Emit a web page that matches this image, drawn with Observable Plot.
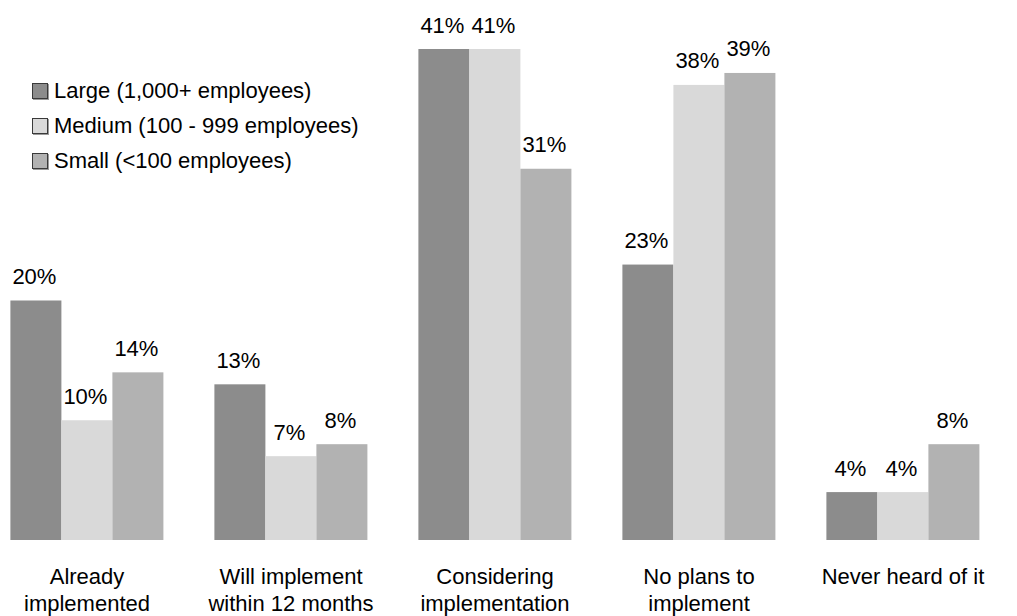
<!DOCTYPE html>
<html>
<head>
<meta charset="utf-8">
<script src="https://cdn.jsdelivr.net/npm/d3@7"></script>
<script src="https://cdn.jsdelivr.net/npm/@observablehq/plot@0.6"></script>
<style>
  html, body { margin: 0; padding: 0; background: #fff; }
  #wrap { position: relative; width: 1017px; height: 616px; font-family: "Liberation Sans", Arial, sans-serif; }
  #legend { position: absolute; left: 32px; top: 73px; font-size: 22px; color: #000; }
  .item { display: flex; align-items: center; height: 35px; }
  .sw { width: 14px; height: 14px; border: 1px solid #3a3a3a; box-shadow: 1px 1px 0 #9a9a9a; margin-right: 6px; box-sizing: content-box; }
</style>
</head>
<body>
<div id="wrap"><div id="legend"></div></div>
<script>
const categories = ["Already implemented", "Will implement within 12 months", "Considering implementation", "No plans to implement", "Never heard of it"];
const categoryLabels = ["Already\nimplemented", "Will implement\nwithin 12 months", "Considering\nimplementation", "No plans to\nimplement", "Never heard of it"];
const series = ["Large (1,000+ employees)", "Medium (100 - 999 employees)", "Small (<100 employees)"];
const large = [20, 13, 41, 23, 4];
const medium = [10, 7, 41, 38, 4];
const small = [14, 8, 31, 39, 8];
const colors = ["#8c8c8c", "#d9d9d9", "#b2b2b2"];

const seriesValues = [large, medium, small];
const data = [];
categories.forEach((c, i) => {
  series.forEach((s, j) => {
    data.push({category: c, series: s, value: seriesValues[j][i]});
  });
});

const chart = Plot.plot({
  width: 1017,
  height: 616,
  marginLeft: 9.6,
  marginRight: 38.4,
  marginTop: 49,
  marginBottom: 76,
  fx: {domain: categories, paddingInner: 0.25, paddingOuter: 0, axis: null},
  x: {domain: series, padding: 0, axis: null},
  y: {domain: [0, 41], axis: null},
  color: {domain: series, range: colors},
  style: {fontFamily: "'Liberation Sans', Arial, sans-serif", fontSize: "22px", color: "#000", background: "#fff"},
  marks: [
    Plot.barY(data, {fx: "category", x: "series", y: "value", fill: "series"}),
    Plot.text(data, {fx: "category", x: "series", y: "value", text: d => d.value + "%", lineAnchor: "bottom", dy: -17, dx: -2, fontSize: 22, fill: "#000"}),
    Plot.axisFx({anchor: "bottom", tickSize: 0, tickPadding: 25, label: null, fontSize: 22, lineHeight: 1.2, fill: "#000",
      tickFormat: d => categoryLabels[categories.indexOf(d)]})
  ]
});
document.getElementById("wrap").prepend(chart);

const legend = document.getElementById("legend");
series.forEach((s, j) => {
  const item = document.createElement("div");
  item.className = "item";
  const sw = document.createElement("span");
  sw.className = "sw";
  sw.style.background = colors[j];
  const t = document.createElement("span");
  t.textContent = s;
  item.appendChild(sw);
  item.appendChild(t);
  legend.appendChild(item);
});
</script>
</body>
</html>
